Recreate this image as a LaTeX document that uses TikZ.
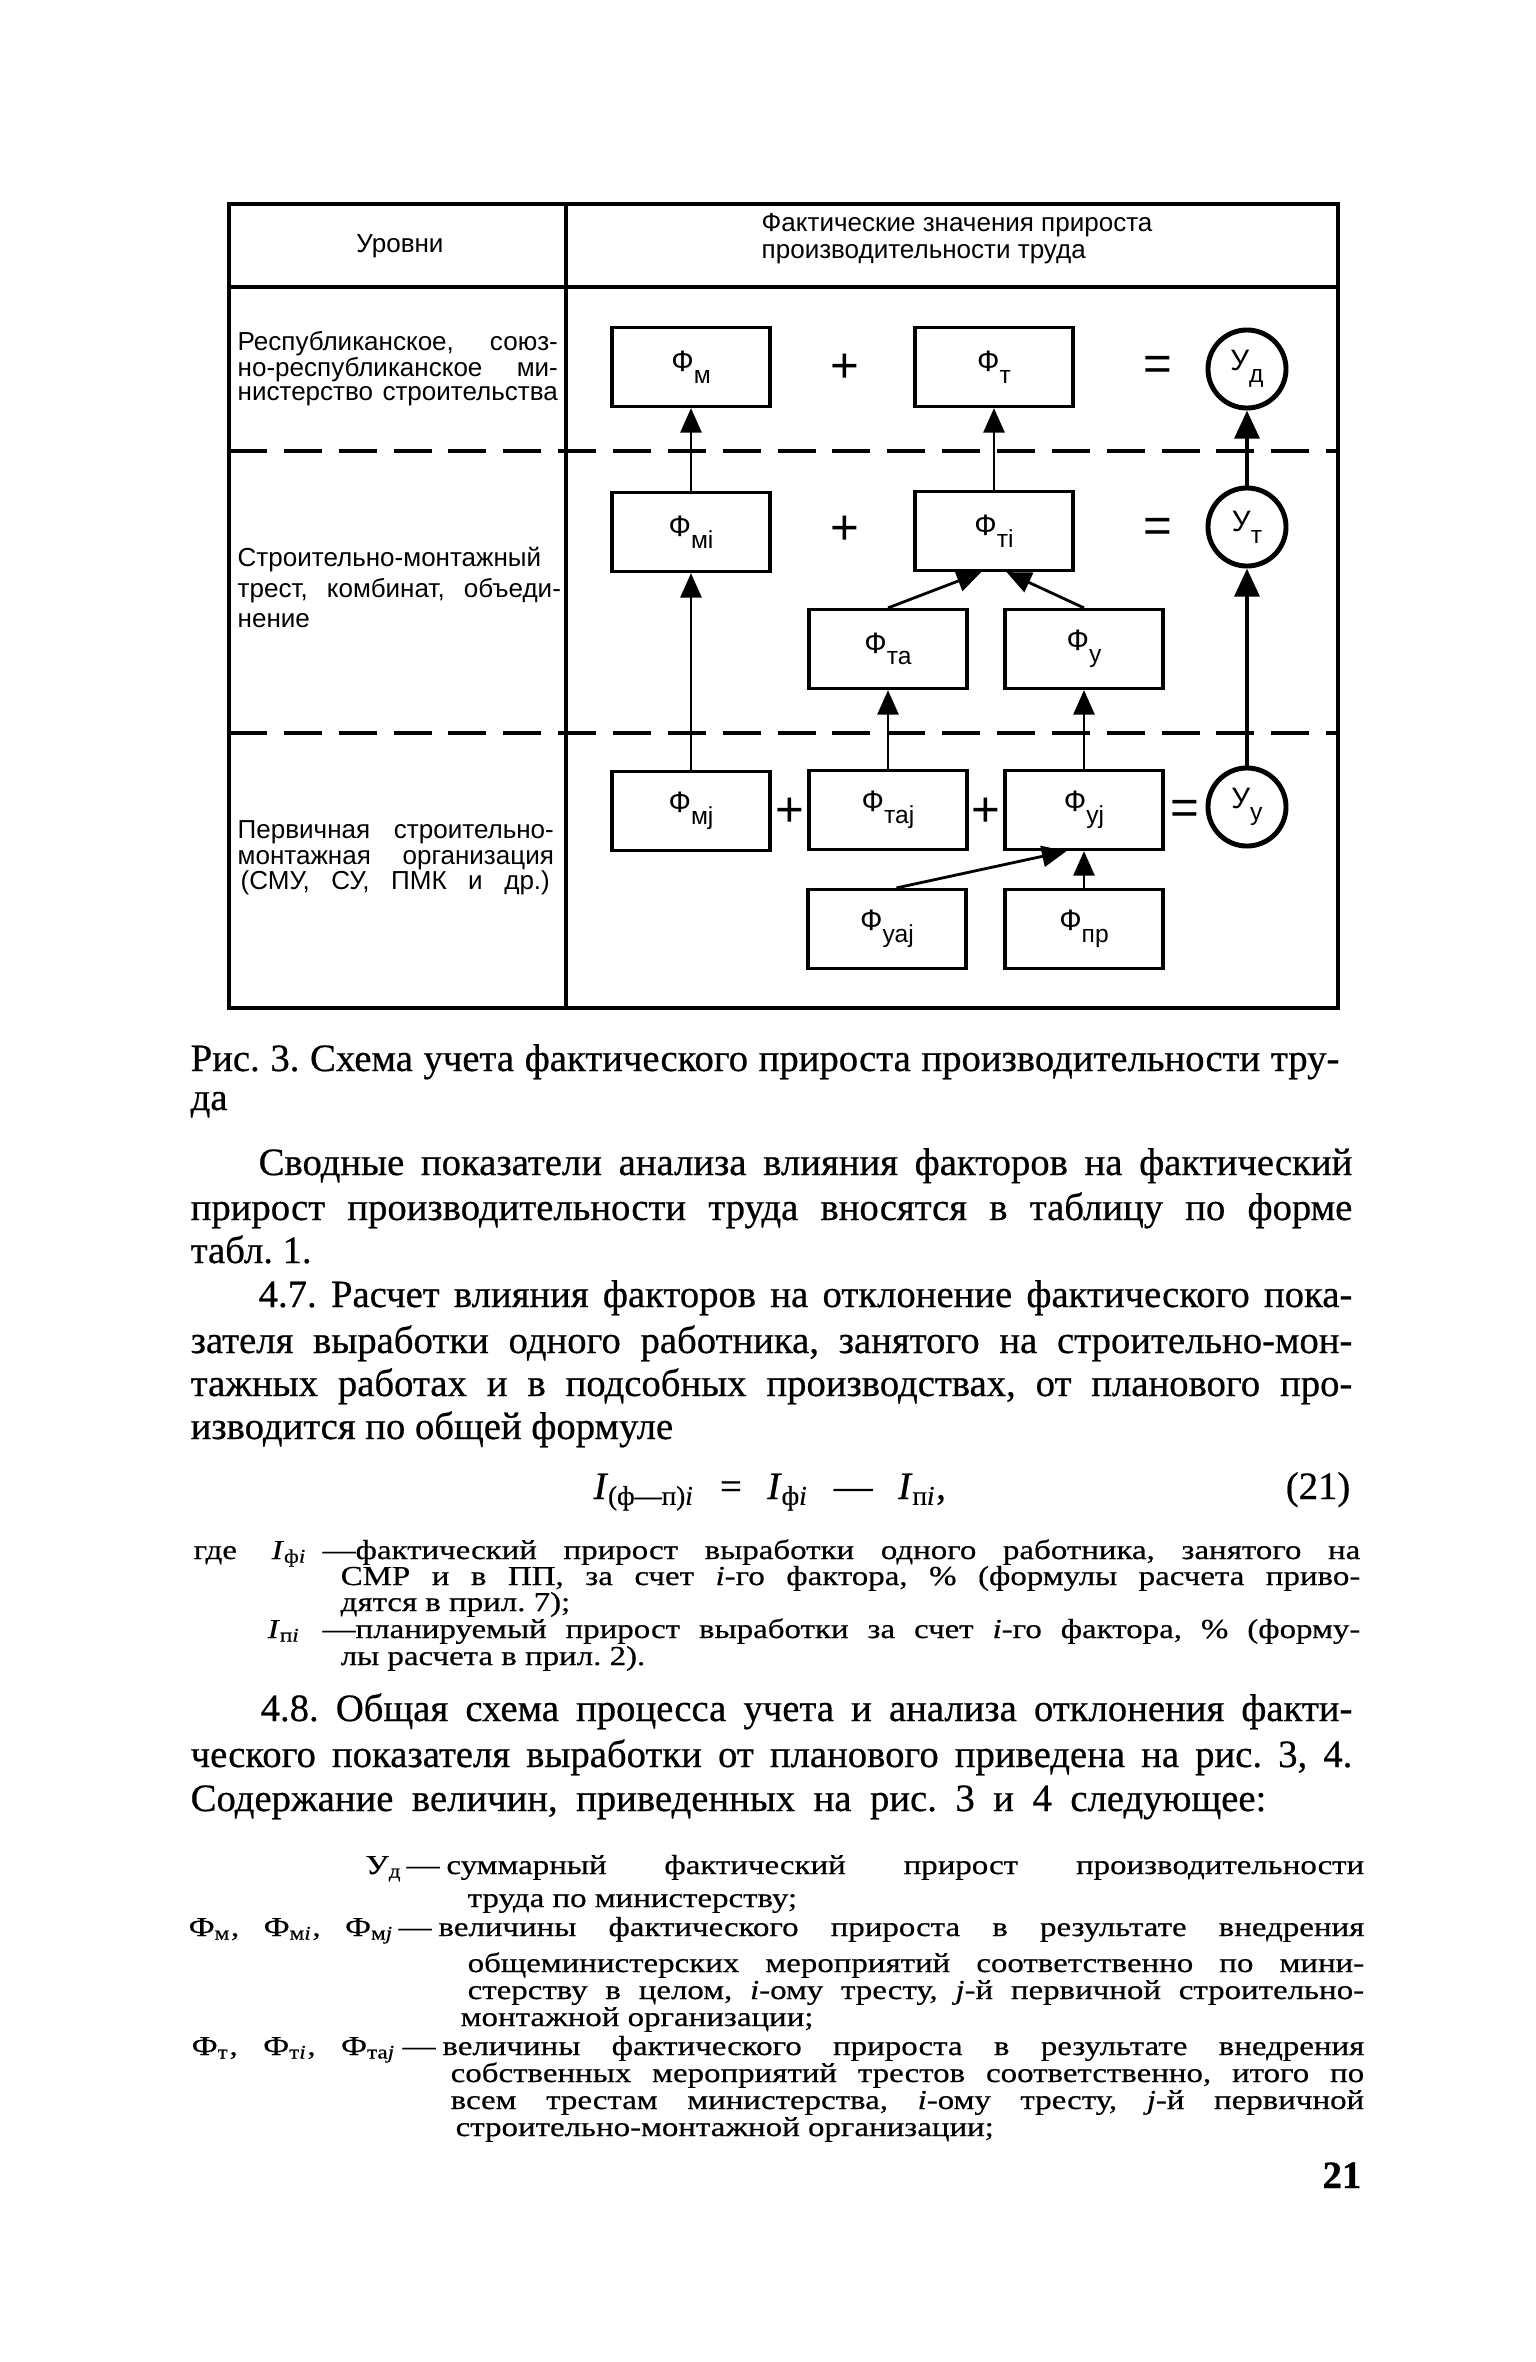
\documentclass[tikz,border=0pt]{standalone}
\usepackage{fontspec}
\usepackage{tikz}
\usetikzlibrary{arrows.meta}

\setmainfont[FakeBold=0.6]{Liberation Serif}
\newfontfamily\petit[FakeStretch=1.2, FakeBold=0.5]{Liberation Serif}
\newfontfamily\grot{Liberation Sans}

\newcommand{\bodyfont}{\fontsize{11pt}{12pt}\selectfont}
\newcommand{\petitfont}{\petit\fontsize{7.8pt}{8.5pt}\selectfont}
\newcommand{\grotfont}{\grot\fontsize{7.4pt}{8.5pt}\selectfont}
\newcommand{\jline}[2]{\makebox[#1][s]{#2}}
\newcommand{\lowsub}[1]{\raisebox{-0.75ex}{\fontsize{7pt}{7pt}\selectfont #1}}
\newcommand{\dashlead}{—\hspace{0.25em}}
\frenchspacing

\tikzset{
  body/.style={anchor=base west, inner sep=0pt, font=\bodyfont},
  petitline/.style={anchor=base west, inner sep=0pt, font=\petitfont},
  levtext/.style={anchor=base west, inner sep=0pt, font=\grotfont},
  fbox/.style={draw, line width=0.9pt, minimum width=1.58cm, minimum height=0.79cm,
    inner sep=0pt, font=\grot\fontsize{8.4pt}{9pt}\selectfont},
  ucirc/.style={draw, circle, line width=1.4pt, minimum size=0.78cm, inner sep=0pt,
    font=\grot\fontsize{8.4pt}{9pt}\selectfont},
  oper/.style={inner sep=0pt, font=\grot\fontsize{14pt}{14pt}\selectfont},
  arr/.style={-{Triangle[width=6pt,length=7pt]}, line width=0.8pt},
  bigarr/.style={-{Triangle[width=7pt,length=8pt]}, line width=1.3pt},
  frame/.style={line width=1.1pt},
  levsep/.style={line width=0.9pt, dash pattern=on 10.8pt off 4.8pt}
}

\begin{document}
\begin{tikzpicture}[x=0.01cm, y=-0.01cm]
  \useasboundingbox (0,0) rectangle (1535,2362);
  \fill[white] (0,0) rectangle (1535,2362);

  % Frame of the table
  \draw[frame] (229,204) rectangle (1338,1008);
  \draw[frame] (229,287) -- (1338,287);
  \draw[frame] (566,204) -- (566,1008);
  \draw[levsep] (229,451) -- (1338,451);
  \draw[levsep] (229,733) -- (1338,733);

  % Heading
  \node[font=\grotfont, inner sep=0pt] (hlev) at (400,246) {Уровни};
  \node[levtext] (hval1) at (761,231) {Фактические значения прироста};
  \node[levtext] (hval2) at (761,258) {производительности труда};

  % Levels
  \node[levtext] (lev1a) at (237,350) {\jline{3.20cm}{Республиканское, союз-}};
  \node[levtext] (lev1b) at (237,376) {\jline{3.20cm}{но-республиканское ми-}};
  \node[levtext] (lev1c) at (237,400) {\jline{3.20cm}{нистерство строительства}};
  \node[levtext] (lev2a) at (237,566) {Строительно-монтажный};
  \node[levtext] (lev2b) at (237,597) {\jline{3.23cm}{трест, комбинат, объеди-}};
  \node[levtext] (lev2c) at (237,627) {нение};
  \node[levtext] (lev3a) at (237,838) {\jline{3.16cm}{Первичная строительно-}};
  \node[levtext] (lev3b) at (237,864) {\jline{3.16cm}{монтажная организация}};
  \node[levtext] (lev3c) at (240,889) {\jline{3.09cm}{(СМУ, СУ, ПМК и др.)}};

  % Boxes
  \node[fbox] (fm) at (691,367) {Ф\lowsub{м}};
  \node[fbox] (ft) at (994,367) {Ф\lowsub{т}};
  \node[ucirc] (ud) at (1247,369) {У\lowsub{д}};
  \node[fbox] (fmi) at (691,532) {Ф\lowsub{мi}};
  \node[fbox] (fti) at (994,531) {Ф\lowsub{тi}};
  \node[ucirc] (ut) at (1247,527) {У\lowsub{т}};
  \node[fbox] (fta) at (888,649) {Ф\lowsub{та}};
  \node[fbox] (fu) at (1084,649) {Ф\lowsub{у}};
  \node[fbox] (fmj) at (691,811) {Ф\lowsub{мj}};
  \node[fbox] (ftaj) at (888,810) {Ф\lowsub{таj}};
  \node[fbox] (fuj) at (1084,810) {Ф\lowsub{уj}};
  \node[ucirc] (uu) at (1247,807) {У\lowsub{у}};
  \node[fbox] (fuaj) at (887,929) {Ф\lowsub{уаj}};
  \node[fbox] (fpr) at (1084,929) {Ф\lowsub{пр}};

  % Signs
  \node[oper] (pl1) at (845,368) {+};
  \node[oper] (eq1) at (1158,368) {=};
  \node[oper] (pl2) at (845,530) {+};
  \node[oper] (eq2) at (1158,530) {=};
  \node[oper] (pl3) at (790,812) {+};
  \node[oper] (pl4) at (986,812) {+};
  \node[oper] (eq3) at (1185,812) {=};

  % Connectors
  \draw[arr] (fmi) -- (fm);
  \draw[arr] (fmj) -- (fmi);
  \draw[arr] (fti) -- (ft);
  \draw[arr] (fta.north) -- (fti.-107);
  \draw[arr] (fu.north) -- (fti.-73);
  \draw[arr] (ftaj) -- (fta);
  \draw[arr] (fuj) -- (fu);
  \draw[arr] (fuaj.77) -- (fuj.-113);
  \draw[arr] (fpr) -- (fuj);
  \draw[bigarr] (uu) -- (ut);
  \draw[bigarr] (ut) -- (ud);

  % Caption and text
  \node[body] (cap1) at (190,1071) {\jline{11.48cm}{Рис. 3. Схема учета фактического прироста производительности тру-}};
  \node[body] (cap2) at (190,1110) {да};
  \node[body] (p1a) at (258,1175) {\jline{10.93cm}{Сводные показатели анализа влияния факторов на фактический}};
  \node[body] (p1b) at (190,1220) {\jline{11.61cm}{прирост производительности труда вносятся в таблицу по форме}};
  \node[body] (p1c) at (190,1263) {табл. 1.};
  \node[body] (p2a) at (258,1307) {\jline{10.93cm}{4.7. Расчет влияния факторов на отклонение фактического пока-}};
  \node[body] (p2b) at (190,1353) {\jline{11.61cm}{зателя выработки одного работника, занятого на строительно-мон-}};
  \node[body] (p2c) at (190,1396) {\jline{11.61cm}{тажных работах и в подсобных производствах, от планового про-}};
  \node[body] (p2d) at (190,1439) {изводится по общей формуле};
  \node[body] (frm) at (593,1499) {\jline{3.52cm}{\textit{I}\textsubscript{(ф—п)\textit{i}} = \textit{I}\textsubscript{ф\textit{i}} — \textit{I}\textsubscript{п\textit{i}},}};
  \node[body, anchor=base east] (frmno) at (1351,1499) {(21)};

  % Notes to the formula
  \node[petitline] (gde) at (193,1559) {где};
  \node[petitline] (iphi) at (271,1559) {\textit{I}\textsubscript{ф\textit{i}}};
  \node[petitline] (n1a) at (322,1559) {\jline{10.37cm}{—фактический прирост выработки одного работника, занятого на}};
  \node[petitline] (n1b) at (340,1585) {\jline{10.19cm}{СМР и в ПП, за счет \textit{i}-го фактора, \% (формулы расчета приво-}};
  \node[petitline] (n1c) at (340,1611) {дятся в прил. 7);};
  \node[petitline] (ipl) at (267,1638) {\textit{I}\textsubscript{п\textit{i}}};
  \node[petitline] (n2a) at (322,1638) {\jline{10.37cm}{—планируемый прирост выработки за счет \textit{i}-го фактора, \% (форму-}};
  \node[petitline] (n2b) at (340,1665) {лы расчета в прил. 2).};

  \node[body] (p3a) at (260,1721) {\jline{10.91cm}{4.8. Общая схема процесса учета и анализа отклонения факти-}};
  \node[body] (p3b) at (190,1767) {\jline{11.61cm}{ческого показателя выработки от планового приведена на рис. 3, 4.}};
  \node[body] (p3c) at (190,1811) {\jline{10.75cm}{Содержание величин, приведенных на рис. 3 и 4 следующее:}};

  % List of quantities
  \node[petitline, anchor=base east] (sud) at (403,1874) {У\textsubscript{д}};
  \node[petitline] (s1a) at (406,1874) {\jline{9.57cm}{\dashlead суммарный фактический прирост производительности}};
  \node[petitline] (s1b) at (467,1907) {труда по министерству;};
  \node[petitline] (sfm) at (188,1936) {\jline{2.05cm}{Ф\textsubscript{м}, Ф\textsubscript{м\textit{i}}, Ф\textsubscript{м\textit{j}}}};
  \node[petitline] (s2a) at (398,1936) {\jline{9.65cm}{\dashlead величины фактического прироста в результате внедрения}};
  \node[petitline] (s2b) at (467,1972) {\jline{8.96cm}{общеминистерских мероприятий соответственно по мини-}};
  \node[petitline] (s2c) at (467,1999) {\jline{8.96cm}{стерству в целом, \textit{i}-ому тресту, \textit{j}-й первичной строительно-}};
  \node[petitline] (s2d) at (460,2026) {монтажной организации;};
  \node[petitline] (sft) at (191,2055) {\jline{2.04cm}{Ф\textsubscript{т}, Ф\textsubscript{т\textit{i}}, Ф\textsubscript{та\textit{j}}}};
  \node[petitline] (s3a) at (402,2055) {\jline{9.61cm}{\dashlead величины фактического прироста в результате внедрения}};
  \node[petitline] (s3b) at (450,2082) {\jline{9.13cm}{собственных мероприятий трестов соответственно, итого по}};
  \node[petitline] (s3c) at (450,2109) {\jline{9.13cm}{всем трестам министерства, \textit{i}-ому тресту, \textit{j}-й первичной}};
  \node[petitline] (s3d) at (455,2136) {строительно-монтажной организации;};

  \node[body, anchor=base east, font=\bodyfont\bfseries] (pgno) at (1362,2188) {21};
\end{tikzpicture}
\end{document}
